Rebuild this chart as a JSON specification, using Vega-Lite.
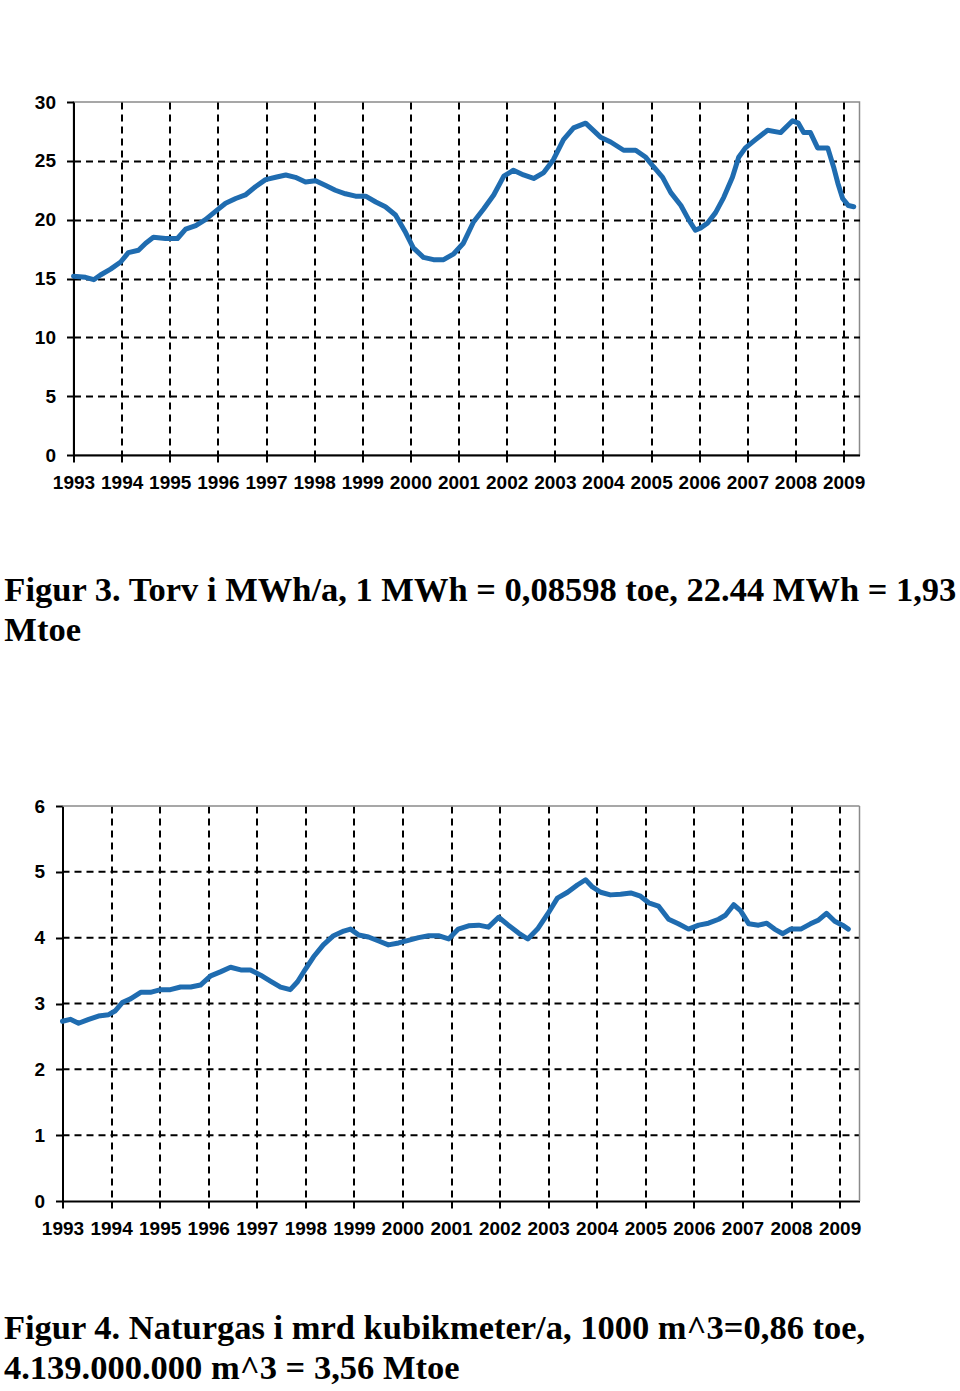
{
  "$schema": "https://vega.github.io/schema/vega-lite/v6.json",
  "background": "white",
  "padding": {"left": 3.5, "top": 92, "right": 0, "bottom": 0},
  "spacing": 148,
  "datasets": {
    "torv": [
      {"t": 1993.00, "v": 15.2}, {"t": 1993.25, "v": 15.1}, {"t": 1993.42, "v": 14.9}, {"t": 1993.56, "v": 15.3},
      {"t": 1993.77, "v": 15.8}, {"t": 1993.98, "v": 16.4}, {"t": 1994.14, "v": 17.2}, {"t": 1994.35, "v": 17.4},
      {"t": 1994.50, "v": 18.0}, {"t": 1994.66, "v": 18.5}, {"t": 1994.91, "v": 18.4}, {"t": 1995.16, "v": 18.4},
      {"t": 1995.33, "v": 19.2}, {"t": 1995.54, "v": 19.5}, {"t": 1995.74, "v": 20.0}, {"t": 1995.95, "v": 20.7},
      {"t": 1996.16, "v": 21.4}, {"t": 1996.37, "v": 21.8}, {"t": 1996.57, "v": 22.1}, {"t": 1996.78, "v": 22.8},
      {"t": 1996.99, "v": 23.4}, {"t": 1997.20, "v": 23.6}, {"t": 1997.41, "v": 23.8}, {"t": 1997.61, "v": 23.6},
      {"t": 1997.82, "v": 23.2}, {"t": 1998.03, "v": 23.3}, {"t": 1998.24, "v": 22.9}, {"t": 1998.44, "v": 22.5},
      {"t": 1998.65, "v": 22.2}, {"t": 1998.86, "v": 22.0}, {"t": 1999.07, "v": 22.0}, {"t": 1999.28, "v": 21.5},
      {"t": 1999.48, "v": 21.1}, {"t": 1999.69, "v": 20.4}, {"t": 1999.90, "v": 18.9}, {"t": 2000.06, "v": 17.6},
      {"t": 2000.27, "v": 16.8}, {"t": 2000.48, "v": 16.6}, {"t": 2000.69, "v": 16.6}, {"t": 2000.90, "v": 17.1},
      {"t": 2001.10, "v": 18.0}, {"t": 2001.31, "v": 19.8}, {"t": 2001.52, "v": 20.9}, {"t": 2001.73, "v": 22.1},
      {"t": 2001.94, "v": 23.7}, {"t": 2002.14, "v": 24.2}, {"t": 2002.35, "v": 23.8}, {"t": 2002.56, "v": 23.5},
      {"t": 2002.77, "v": 24.0}, {"t": 2002.97, "v": 25.1}, {"t": 2003.18, "v": 26.8}, {"t": 2003.39, "v": 27.8},
      {"t": 2003.64, "v": 28.2}, {"t": 2003.85, "v": 27.4}, {"t": 2003.95, "v": 27.0}, {"t": 2004.16, "v": 26.6},
      {"t": 2004.43, "v": 25.9}, {"t": 2004.68, "v": 25.9}, {"t": 2004.89, "v": 25.3}, {"t": 2005.05, "v": 24.5},
      {"t": 2005.24, "v": 23.6}, {"t": 2005.41, "v": 22.3}, {"t": 2005.62, "v": 21.2}, {"t": 2005.78, "v": 20.0},
      {"t": 2005.92, "v": 19.1}, {"t": 2006.03, "v": 19.3}, {"t": 2006.17, "v": 19.7}, {"t": 2006.34, "v": 20.6},
      {"t": 2006.51, "v": 21.9}, {"t": 2006.69, "v": 23.6}, {"t": 2006.82, "v": 25.3}, {"t": 2006.96, "v": 26.1},
      {"t": 2007.17, "v": 26.8}, {"t": 2007.42, "v": 27.6}, {"t": 2007.69, "v": 27.4}, {"t": 2007.94, "v": 28.4},
      {"t": 2008.06, "v": 28.2}, {"t": 2008.17, "v": 27.4}, {"t": 2008.31, "v": 27.4}, {"t": 2008.46, "v": 26.1},
      {"t": 2008.67, "v": 26.1}, {"t": 2008.79, "v": 24.5}, {"t": 2008.88, "v": 23.1}, {"t": 2008.98, "v": 21.8},
      {"t": 2009.10, "v": 21.2}, {"t": 2009.21, "v": 21.1}
    ],
    "gas": [
      {"t": 1993.00, "v": 2.73}, {"t": 1993.16, "v": 2.76}, {"t": 1993.33, "v": 2.70}, {"t": 1993.54, "v": 2.76},
      {"t": 1993.74, "v": 2.81}, {"t": 1993.95, "v": 2.83}, {"t": 1994.09, "v": 2.89}, {"t": 1994.24, "v": 3.02},
      {"t": 1994.40, "v": 3.07}, {"t": 1994.61, "v": 3.17}, {"t": 1994.81, "v": 3.17}, {"t": 1995.02, "v": 3.21},
      {"t": 1995.22, "v": 3.21}, {"t": 1995.43, "v": 3.25}, {"t": 1995.64, "v": 3.25}, {"t": 1995.84, "v": 3.28},
      {"t": 1996.05, "v": 3.42}, {"t": 1996.25, "v": 3.48}, {"t": 1996.46, "v": 3.55}, {"t": 1996.67, "v": 3.51},
      {"t": 1996.87, "v": 3.51}, {"t": 1997.08, "v": 3.43}, {"t": 1997.28, "v": 3.34}, {"t": 1997.49, "v": 3.25},
      {"t": 1997.69, "v": 3.21}, {"t": 1997.84, "v": 3.33}, {"t": 1998.00, "v": 3.52}, {"t": 1998.17, "v": 3.71},
      {"t": 1998.37, "v": 3.89}, {"t": 1998.58, "v": 4.03}, {"t": 1998.79, "v": 4.10}, {"t": 1998.93, "v": 4.13},
      {"t": 1999.10, "v": 4.04}, {"t": 1999.30, "v": 4.01}, {"t": 1999.51, "v": 3.95}, {"t": 1999.71, "v": 3.89},
      {"t": 1999.92, "v": 3.92}, {"t": 2000.12, "v": 3.96}, {"t": 2000.33, "v": 4.00}, {"t": 2000.54, "v": 4.03},
      {"t": 2000.74, "v": 4.03}, {"t": 2000.95, "v": 3.98}, {"t": 2001.15, "v": 4.13}, {"t": 2001.36, "v": 4.18},
      {"t": 2001.57, "v": 4.19}, {"t": 2001.77, "v": 4.16}, {"t": 2001.98, "v": 4.31}, {"t": 2002.18, "v": 4.19},
      {"t": 2002.39, "v": 4.07}, {"t": 2002.58, "v": 3.98}, {"t": 2002.78, "v": 4.13}, {"t": 2002.99, "v": 4.36},
      {"t": 2003.19, "v": 4.60}, {"t": 2003.40, "v": 4.69}, {"t": 2003.60, "v": 4.80}, {"t": 2003.77, "v": 4.88},
      {"t": 2003.91, "v": 4.77}, {"t": 2004.08, "v": 4.69}, {"t": 2004.28, "v": 4.65}, {"t": 2004.49, "v": 4.66},
      {"t": 2004.70, "v": 4.68}, {"t": 2004.90, "v": 4.63}, {"t": 2005.07, "v": 4.53}, {"t": 2005.27, "v": 4.48},
      {"t": 2005.48, "v": 4.28}, {"t": 2005.68, "v": 4.21}, {"t": 2005.89, "v": 4.13}, {"t": 2006.10, "v": 4.19},
      {"t": 2006.30, "v": 4.22}, {"t": 2006.51, "v": 4.28}, {"t": 2006.65, "v": 4.34}, {"t": 2006.82, "v": 4.50},
      {"t": 2006.96, "v": 4.41}, {"t": 2007.13, "v": 4.21}, {"t": 2007.33, "v": 4.19}, {"t": 2007.50, "v": 4.22},
      {"t": 2007.66, "v": 4.13}, {"t": 2007.83, "v": 4.06}, {"t": 2007.99, "v": 4.13}, {"t": 2008.20, "v": 4.13},
      {"t": 2008.40, "v": 4.21}, {"t": 2008.57, "v": 4.27}, {"t": 2008.73, "v": 4.37}, {"t": 2008.90, "v": 4.25},
      {"t": 2009.06, "v": 4.19}, {"t": 2009.18, "v": 4.13}
    ]
  },
  "vconcat": [
    {
      "width": 786,
      "height": 353,
      "data": {"name": "torv"},
      "title": {
        "text": ["Figur 3. Torv i MWh/a, 1 MWh = 0,08598 toe, 22.44 MWh = 1,93", "Mtoe"],
        "orient": "bottom",
        "anchor": "start",
        "frame": "bounds",
        "dx": -30,
        "offset": 82
      },
      "mark": {"type": "line", "color": "#1f6cb0", "strokeWidth": 5, "strokeJoin": "round", "strokeCap": "round"},
      "encoding": {
        "x": {
          "field": "t", "type": "quantitative",
          "scale": {"domain": [1993, 2009.33], "nice": false, "zero": false},
          "axis": {
            "title": null, "values": [1993, 1994, 1995, 1996, 1997, 1998, 1999, 2000, 2001, 2002, 2003, 2004, 2005, 2006, 2007, 2008, 2009],
            "format": "d",
            "gridOpacity": {"condition": {"test": "datum.value == 1993", "value": 0}, "value": 1}
          }
        },
        "y": {
          "field": "v", "type": "quantitative",
          "scale": {"domain": [0, 30], "nice": false},
          "axis": {
            "title": null, "values": [0, 5, 10, 15, 20, 25, 30],
            "format": "d",
            "gridOpacity": {"condition": {"test": "datum.value == 30 || datum.value == 0", "value": 0}, "value": 1}
          }
        }
      }
    },
    {
      "width": 786,
      "height": 395,
      "view": {"stroke": null},
      "title": {
        "text": ["Figur 4. Naturgas i mrd kubikmeter/a, 1000 m^3=0,86 toe,", "4.139.000.000 m^3 = 3,56 Mtoe"],
        "orient": "bottom",
        "anchor": "start",
        "frame": "bounds",
        "dx": -30,
        "offset": 74
      },
      "layer": [
        {
          "data": {"values": [{"g": 1}, {"g": 2}, {"g": 3}, {"g": 4}, {"g": 5}]},
          "mark": {"type": "rule", "color": "#000000", "strokeWidth": 2, "strokeDash": [7, 5]},
          "encoding": {
            "x": {"datum": 1993, "type": "quantitative"},
            "x2": {"datum": 2009.41},
            "y": {"field": "g", "type": "quantitative"}
          }
        },
        {
          "data": {"values": [{}]},
          "mark": {"type": "rule", "color": "#8a8a8a", "strokeWidth": 1.5},
          "encoding": {
            "x": {"datum": 1993, "type": "quantitative"},
            "x2": {"datum": 2009.41},
            "y": {"datum": 6, "type": "quantitative"}
          }
        },
        {
          "data": {"values": [{}]},
          "mark": {"type": "rule", "color": "#8a8a8a", "strokeWidth": 1.5},
          "encoding": {
            "x": {"datum": 2009.41, "type": "quantitative"},
            "y": {"datum": 0, "type": "quantitative"},
            "y2": {"datum": 6}
          }
        },
        {
          "data": {"name": "gas"},
          "mark": {"type": "line", "color": "#1f6cb0", "strokeWidth": 5, "strokeJoin": "round", "strokeCap": "round"},
          "encoding": {
            "x": {
              "field": "t", "type": "quantitative",
              "scale": {"domain": [1993, 2009.41], "nice": false, "zero": false, "range": [-11, 786]},
              "axis": {
                "title": null, "values": [1993, 1994, 1995, 1996, 1997, 1998, 1999, 2000, 2001, 2002, 2003, 2004, 2005, 2006, 2007, 2008, 2009],
                "format": "d",
                "gridOpacity": {"condition": {"test": "datum.value == 1993", "value": 0}, "value": 1}
              }
            },
            "y": {
              "field": "v", "type": "quantitative",
              "scale": {"domain": [0, 6], "nice": false},
              "axis": {
                "title": null, "values": [0, 1, 2, 3, 4, 5, 6],
                "format": "d",
                "offset": 11,
                "grid": false
              }
            }
          }
        }
      ]
    }
  ],
  "config": {
    "view": {"stroke": "#8a8a8a", "strokeWidth": 1.5, "fill": "white"},
    "axis": {
      "domainColor": "#000000",
      "domainWidth": 2,
      "tickColor": "#000000",
      "tickWidth": 2,
      "tickSize": 7,
      "labelFont": "Liberation Sans",
      "labelFontWeight": "bold",
      "labelFontSize": 19,
      "labelColor": "#000000",
      "labelPadding": 11,
      "labelFlush": false,
      "labelOverlap": false,
      "grid": true,
      "gridColor": "#000000",
      "gridWidth": 2,
      "gridDash": [7, 5]
    },
    "title": {
      "font": "Liberation Serif",
      "fontWeight": "bold",
      "fontSize": 34.5,
      "color": "#000000",
      "lineHeight": 40
    }
  }
}
